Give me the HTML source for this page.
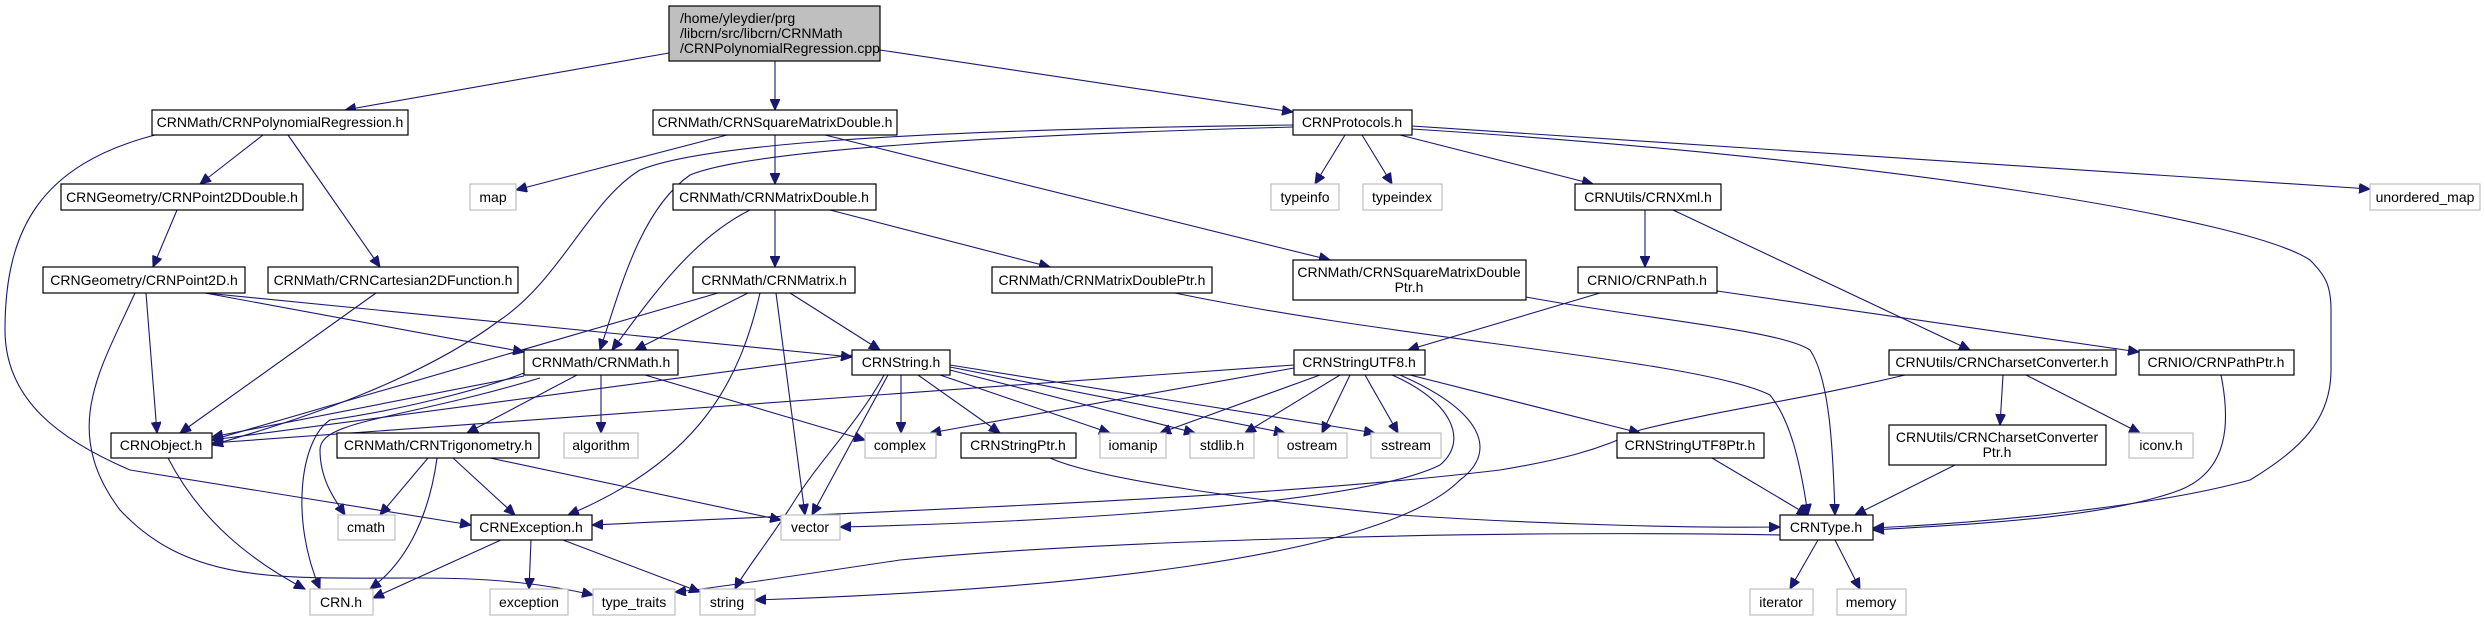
<!DOCTYPE html>
<html><head><meta charset="utf-8"><style>
html,body{margin:0;padding:0;background:#fff;}
svg{display:block;}
text{font-family:"Liberation Sans",Arial,sans-serif;font-size:14px;fill:#000;}
.n{fill:#fff;stroke:#000;stroke-width:1.2;}
.s{fill:#fff;stroke:#bfbfbf;stroke-width:1.2;}
.e{fill:none;stroke:#191970;stroke-width:1.1;marker-end:url(#a);}
</style></head><body>
<svg width="2485" height="621" viewBox="0 0 2485 621" xmlns="http://www.w3.org/2000/svg">
<defs><marker id="a" markerUnits="userSpaceOnUse" markerWidth="12" markerHeight="10" refX="11" refY="5" orient="auto"><path d="M0,0 L11,5 L0,10 z" fill="#191970" stroke="#191970"/></marker></defs>

<!-- edges -->
<path class="e" d="M669,53 L345,110"/>
<path class="e" d="M775,61 L775,110"/>
<path class="e" d="M880,50 L1293,112"/>
<path class="e" d="M263,135 L200,184"/>
<path class="e" d="M288,135 L380,267"/>
<path class="e" d="M155,135 C40,165 5,230 5,330 C5,400 60,440 130,470 L471,525"/>
<path class="e" d="M177,210 L153,267"/>
<path class="e" d="M146,293 L157,433"/>
<path class="e" d="M135,293 C100,370 60,430 120,510 C190,585 280,578 420,578 C500,578 550,585 593,595"/>
<path class="e" d="M205,293 L524,352"/>
<path class="e" d="M205,293 L852,357"/>
<path class="e" d="M376,293 L180,433"/>
<path class="e" d="M727,135 L516,190"/>
<path class="e" d="M775,135 L775,184"/>
<path class="e" d="M825,135 L1330,260"/>
<path class="e" d="M750,210 C690,240 650,300 612,350"/>
<path class="e" d="M775,210 L775,267"/>
<path class="e" d="M830,210 L1050,267"/>
<path class="e" d="M718,293 L212,440"/>
<path class="e" d="M748,293 L635,350"/>
<path class="e" d="M760,293 C740,380 700,460 568,515"/>
<path class="e" d="M776,293 L805,515"/>
<path class="e" d="M790,293 L880,350"/>
<path class="e" d="M1175,293 C1400,340 1700,360 1770,395 C1790,420 1800,460 1808,515"/>
<path class="e" d="M1293,125 C900,130 700,145 640,170 C590,200 560,280 500,320 C420,380 300,420 212,445"/>
<path class="e" d="M1293,127 C1000,135 750,150 690,175 C640,210 620,290 600,350"/>
<path class="e" d="M1345,135 L1315,184"/>
<path class="e" d="M1362,135 L1392,184"/>
<path class="e" d="M1400,135 L1593,184"/>
<path class="e" d="M1412,126 L2370,189"/>
<path class="e" d="M1412,129 C1900,160 2250,220 2310,260 C2325,275 2331,285 2331,310 L2331,370 C2331,420 2300,450 2250,480 C2160,505 2000,522 1873,528"/>
<path class="e" d="M1526,297 C1650,320 1780,330 1810,350 C1830,380 1833,450 1835,515"/>
<path class="e" d="M1645,210 L1645,267"/>
<path class="e" d="M1673,210 L1970,350"/>
<path class="e" d="M1600,293 L1408,350"/>
<path class="e" d="M1717,291 L2139,352"/>
<path class="e" d="M524,376 L212,437"/>
<path class="e" d="M524,373 C480,390 400,410 330,420 C300,440 290,520 320,589"/>
<path class="e" d="M540,378 C400,420 320,420 320,450 C320,480 335,500 345,515"/>
<path class="e" d="M577,375 L467,433"/>
<path class="e" d="M601,375 L601,433"/>
<path class="e" d="M645,375 L865,440"/>
<path class="e" d="M428,458 L380,515"/>
<path class="e" d="M437,458 C430,510 410,560 370,589"/>
<path class="e" d="M453,458 L515,515"/>
<path class="e" d="M490,458 L781,520"/>
<path class="e" d="M168,458 C200,520 250,560 305,589"/>
<path class="e" d="M501,540 L373,598"/>
<path class="e" d="M531,540 L529,589"/>
<path class="e" d="M563,540 L700,592"/>
<path class="e" d="M852,355 L212,440"/>
<path class="e" d="M901,375 L901,433"/>
<path class="e" d="M918,375 L1000,433"/>
<path class="e" d="M940,375 L1110,433"/>
<path class="e" d="M950,370 L1195,433"/>
<path class="e" d="M950,367 L1285,433"/>
<path class="e" d="M950,365 L1375,433"/>
<path class="e" d="M888,375 L812,515"/>
<path class="e" d="M884,375 C860,420 820,460 795,500 C770,540 745,570 735,589"/>
<path class="e" d="M1294,365 L212,443"/>
<path class="e" d="M1294,368 L930,433"/>
<path class="e" d="M1320,375 L1160,433"/>
<path class="e" d="M1340,375 L1245,433"/>
<path class="e" d="M1350,375 L1322,433"/>
<path class="e" d="M1365,375 L1398,433"/>
<path class="e" d="M1410,375 L1640,433"/>
<path class="e" d="M1392,375 C1450,400 1470,440 1440,465 C1360,505 1050,522 840,527"/>
<path class="e" d="M1400,375 C1480,410 1500,450 1460,480 C1380,560 1050,590 755,600"/>
<path class="e" d="M1905,375 C1800,400 1720,410 1640,430 C1600,450 1560,460 1500,470 C1250,500 900,510 592,525"/>
<path class="e" d="M1050,458 C1100,480 1250,500 1400,515 C1550,525 1700,528 1780,527"/>
<path class="e" d="M1780,535 C1500,530 1100,540 900,560 C800,575 700,590 675,592"/>
<path class="e" d="M1712,458 L1808,515"/>
<path class="e" d="M2003,375 L2000,425"/>
<path class="e" d="M2026,375 L2140,433"/>
<path class="e" d="M1955,465 L1855,515"/>
<path class="e" d="M2221,375 C2230,420 2230,470 2180,490 C2100,520 1950,525 1873,530"/>
<path class="e" d="M1818,540 L1790,589"/>
<path class="e" d="M1835,540 L1860,589"/>

<!-- nodes -->
<rect x="669" y="6" width="211" height="55" fill="#bfbfbf" stroke="#000" stroke-width="1.2"/>
<text x="680" y="23">/home/yleydier/prg</text>
<text x="680" y="38">/libcrn/src/libcrn/CRNMath</text>
<text x="680" y="53">/CRNPolynomialRegression.cpp</text>

<rect class="n" x="152" y="110" width="256" height="25"/><text x="280" y="127" text-anchor="middle">CRNMath/CRNPolynomialRegression.h</text>
<rect class="n" x="653" y="110" width="244" height="25"/><text x="775" y="127" text-anchor="middle">CRNMath/CRNSquareMatrixDouble.h</text>
<rect class="n" x="1293" y="110" width="119" height="25"/><text x="1352" y="127" text-anchor="middle">CRNProtocols.h</text>

<rect class="s" x="470" y="184" width="46" height="26"/><text x="493" y="202" text-anchor="middle">map</text>
<rect class="n" x="61" y="184" width="242" height="26"/><text x="182" y="202" text-anchor="middle">CRNGeometry/CRNPoint2DDouble.h</text>
<rect class="n" x="673" y="184" width="203" height="26"/><text x="774" y="202" text-anchor="middle">CRNMath/CRNMatrixDouble.h</text>
<rect class="s" x="1271" y="184" width="68" height="26"/><text x="1305" y="202" text-anchor="middle">typeinfo</text>
<rect class="s" x="1363" y="184" width="79" height="26"/><text x="1402" y="202" text-anchor="middle">typeindex</text>
<rect class="n" x="1575" y="184" width="146" height="26"/><text x="1648" y="202" text-anchor="middle">CRNUtils/CRNXml.h</text>
<rect class="s" x="2370" y="184" width="110" height="26"/><text x="2425" y="202" text-anchor="middle">unordered_map</text>

<rect class="n" x="43" y="267" width="202" height="26"/><text x="144" y="285" text-anchor="middle">CRNGeometry/CRNPoint2D.h</text>
<rect class="n" x="268" y="267" width="250" height="26"/><text x="393" y="285" text-anchor="middle">CRNMath/CRNCartesian2DFunction.h</text>
<rect class="n" x="693" y="267" width="162" height="26"/><text x="774" y="285" text-anchor="middle">CRNMath/CRNMatrix.h</text>
<rect class="n" x="992" y="267" width="220" height="26"/><text x="1102" y="285" text-anchor="middle">CRNMath/CRNMatrixDoublePtr.h</text>
<rect class="n" x="1293" y="260" width="233" height="40"/><text x="1409" y="277" text-anchor="middle">CRNMath/CRNSquareMatrixDouble</text><text x="1409" y="292" text-anchor="middle">Ptr.h</text>
<rect class="n" x="1578" y="267" width="139" height="26"/><text x="1647" y="285" text-anchor="middle">CRNIO/CRNPath.h</text>

<rect class="n" x="524" y="350" width="154" height="25"/><text x="601" y="367" text-anchor="middle">CRNMath/CRNMath.h</text>
<rect class="n" x="852" y="350" width="98" height="25"/><text x="901" y="367" text-anchor="middle">CRNString.h</text>
<rect class="n" x="1294" y="350" width="131" height="25"/><text x="1359" y="367" text-anchor="middle">CRNStringUTF8.h</text>
<rect class="n" x="1889" y="350" width="227" height="25"/><text x="2002" y="367" text-anchor="middle">CRNUtils/CRNCharsetConverter.h</text>
<rect class="n" x="2139" y="350" width="155" height="25"/><text x="2216" y="367" text-anchor="middle">CRNIO/CRNPathPtr.h</text>

<rect class="n" x="111" y="433" width="101" height="25"/><text x="161" y="450" text-anchor="middle">CRNObject.h</text>
<rect class="n" x="337" y="433" width="202" height="25"/><text x="438" y="450" text-anchor="middle">CRNMath/CRNTrigonometry.h</text>
<rect class="s" x="564" y="433" width="74" height="25"/><text x="601" y="450" text-anchor="middle">algorithm</text>
<rect class="s" x="865" y="433" width="71" height="25"/><text x="900" y="450" text-anchor="middle">complex</text>
<rect class="n" x="961" y="433" width="115" height="25"/><text x="1018" y="450" text-anchor="middle">CRNStringPtr.h</text>
<rect class="s" x="1100" y="433" width="66" height="25"/><text x="1133" y="450" text-anchor="middle">iomanip</text>
<rect class="s" x="1190" y="433" width="64" height="25"/><text x="1222" y="450" text-anchor="middle">stdlib.h</text>
<rect class="s" x="1278" y="433" width="69" height="25"/><text x="1312" y="450" text-anchor="middle">ostream</text>
<rect class="s" x="1371" y="433" width="70" height="25"/><text x="1406" y="450" text-anchor="middle">sstream</text>
<rect class="n" x="1617" y="433" width="147" height="25"/><text x="1690" y="450" text-anchor="middle">CRNStringUTF8Ptr.h</text>
<rect class="n" x="1889" y="425" width="217" height="40"/><text x="1997" y="442" text-anchor="middle">CRNUtils/CRNCharsetConverter</text><text x="1997" y="457" text-anchor="middle">Ptr.h</text>
<rect class="s" x="2129" y="433" width="64" height="25"/><text x="2161" y="450" text-anchor="middle">iconv.h</text>

<rect class="s" x="338" y="515" width="57" height="25"/><text x="366" y="532" text-anchor="middle">cmath</text>
<rect class="n" x="471" y="515" width="121" height="25"/><text x="531" y="532" text-anchor="middle">CRNException.h</text>
<rect class="s" x="781" y="515" width="59" height="25"/><text x="810" y="532" text-anchor="middle">vector</text>
<rect class="n" x="1780" y="515" width="93" height="25"/><text x="1826" y="532" text-anchor="middle">CRNType.h</text>

<rect class="s" x="310" y="589" width="63" height="26"/><text x="341" y="607" text-anchor="middle">CRN.h</text>
<rect class="s" x="490" y="589" width="78" height="26"/><text x="529" y="607" text-anchor="middle">exception</text>
<rect class="s" x="593" y="589" width="82" height="26"/><text x="634" y="607" text-anchor="middle">type_traits</text>
<rect class="s" x="700" y="589" width="55" height="26"/><text x="727" y="607" text-anchor="middle">string</text>
<rect class="s" x="1750" y="589" width="63" height="26"/><text x="1781" y="607" text-anchor="middle">iterator</text>
<rect class="s" x="1837" y="589" width="69" height="26"/><text x="1871" y="607" text-anchor="middle">memory</text>
</svg>
</body></html>
